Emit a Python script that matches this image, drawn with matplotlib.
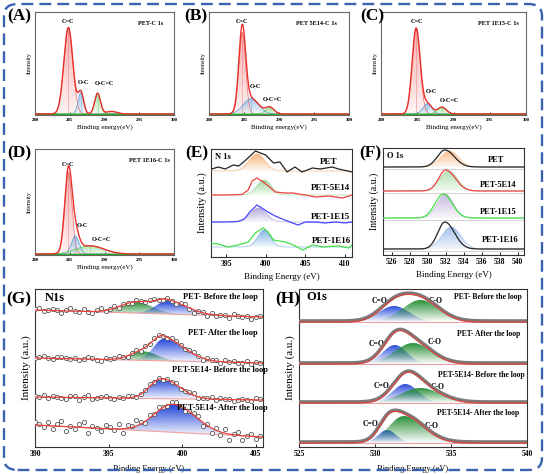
import numpy as np
import matplotlib.pyplot as plt
from matplotlib.colors import to_rgb
from matplotlib.patches import FancyBboxPatch, PathPatch
from matplotlib.path import Path

plt.rcParams['font.family'] = ['Liberation Serif', 'DejaVu Serif']
plt.rcParams['font.weight'] = 'bold'

W, H = 546, 474

# ---- C 1s fits (A-D): center, height, sigma per component ----
c1s_titles = ["PET-C 1s", "PET 5E14-C 1s", "PET 1E15-C 1s", "PET 1E16-C 1s"]
c1s_names = ["C=C", "O-C", "O-C=C"]
c1s_center = [[284.8, 286.6, 289.0], [284.75, 286.0, 288.7], [284.85, 286.4, 288.4], [284.8, 285.8, 287.9]]
c1s_height = [[1.0, 0.25, 0.24], [1.0, 0.19, 0.08], [1.0, 0.12, 0.08], [1.0, 0.22, 0.10]]
c1s_sigma = [[0.65, 0.4, 0.42], [0.48, 1.1, 0.6], [0.55, 0.6, 0.6], [0.52, 0.55, 2.0]]
c1s_ymax = [1.18, 1.25, 1.19, 1.28]
c1s_label_xy = [
    [(284.8, 1.04), (287.0, 0.34), (290.0, 0.32)],
    [(284.7, 1.10), (286.6, 0.31), (289.1, 0.15)],
    [(285.0, 1.05), (286.9, 0.23), (289.5, 0.13)],
    [(284.8, 1.06), (286.8, 0.32), (289.5, 0.15)],
]
c1s_title_x = [0.83, 0.77, 0.81, 0.82]
satellite_A = [291.0, 0.03, 0.8]

# ---- N 1s survey (E): raw traces and fitted peak ----
n1s_names = ["PET", "PET-5E14", "PET-1E15", "PET-1E16"]
n1s_base = [86, 62, 35, 10]
n1s_e = [
    [392.8, 394, 394.9, 395.9, 396.6, 397.5, 398.7, 400, 401, 401.8, 402.7, 403.7, 404.6, 405.9, 406.9, 408.4, 409.2, 410.9],
    [393, 395, 397, 397.8, 398.3, 398.9, 399.7, 400.5, 401.2, 402.5, 403.4, 405, 406.3, 408, 409.7, 410.9],
    [393, 395, 396.5, 397.3, 398, 398.9, 399.5, 400.3, 401.2, 402.1, 403.4, 404.1, 405, 406.3, 407.5, 408.8, 410, 410.9],
    [392.9, 394, 395.3, 396.5, 397.8, 398.7, 399.7, 400.3, 401, 402.5, 403.5, 404.7, 405.9, 407.2, 409.2, 410.5, 410.9],
]
n1s_y = [
    [1, 4, 2, 6, 5, 11, 20, 16, 8, 9, -1, 4, -1, 3, 2, 4, 2, -1],
    [0, 0, 0.5, 5, 14, 17, 13, 8, 3, 2, 2, 0, -2, -1, -3, 0],
    [0, 0, 0.5, 3, 10, 17, 14, 10, 6, 3, -1, -3, 0, 0, -1, 0, -1, 0],
    [4, 3, 0, 2, 5, 14, 19, 15, 7, 5, 2, -3, 2, 0, 1, -1, 2],
]
n1s_fit = [[398.9, 17, 1.0], [399.8, 15, 0.9], [399.1, 14, 1.0], [399.8, 17, 0.8]]
n1s_line_col = ["#222222", "#f04040", "#4444ff", "#44e044"]
n1s_fill_col = ["#f3a05a", "#7fcf7f", "#a08fcf", "#5f9fe0"]

# ---- O 1s survey (F): line peak (c, h, sl, sr) and fitted fill (c, h, s) ----
o1s_base = [88, 64, 37, 6]
o1s_line = [[531.9, 17, 0.85, 1.05], [532.0, 21, 0.8, 1.05], [531.7, 24, 0.9, 1.0], [531.9, 27, 0.8, 1.05]]
o1s_fill = [[532.4, 16, 1.0], [532.3, 20, 1.0], [531.95, 24, 0.9], [532.6, 22, 1.05]]
o1s_line_col = ["#222222", "#f04040", "#44e044", "#222222"]
o1s_fill_col = ["#f5a868", "#8fd48f", "#b0a0d4", "#7fa6e6"]

# ---- G: N1s before/after loop ----
loop_names = ["PET- Before the loop", "PET- After the loop", "PET-5E14- Before the loop", "PET-5E14- After the loop"]
g_base_left = [137, 89, 50, 22]
g_base_right = [130, 84, 47, 10]
g_green = [[396.9, 11, 1.1, 1.1], [397.4, 9, 0.9, 0.9], None, None]
g_blue = [[399.0, 13, 0.8, 1.3], [398.75, 22, 0.7, 1.4], [398.6, 20, 0.8, 1.2], [399.4, 28, 1.3, 1.5]]
g_resid = [
    [1, 2, -1, 0, 2, 1, -2, 1, 3, 0, -1, 2, 0, -2, 1, 3, -1, 0, 2, -1, 1, 0, -1, 2, 1, 0,
     1, 2, 0, -1, 1, 0, -2, 1, 2, -1, -3, 0, 1, -2, 2, -1, 0, 1, -2, 2, 0, -1, 1, -2, 0, 1],
    [0, 1, 2, 0, -1, 1, 2, 1, 0, 1, -1, 0, 2, 1, -1, -2, 1, 0, 1, 2, 0, -1, 1, 2, -1, 1,
     0, 2, 1, 0, -1, 2, 1, 0, -1, 1, 2, 0, -2, 1, 0, 1, -1, 2, 0, 1, -1, 0, 2, -1, 1, 0],
    [1, 0, 2, -1, 1, 0, -1, -2, 1, 2, -2, 1, 3, -1, 0, 1, 2, 0, -1, 1, 0, 2, 1, -1, 0, 1,
     2, 0, 1, -1, 1, 0, 2, -1, 0, 1, 2, -1, 0, 1, 2, -1, 1, 0, 1, -1, 0, 1, 0, -1, 2, 1],
    [3, 1, -2, 4, -3, 2, 5, -4, 1, -2, 3, 6, -5, 2, 0, -3, 4, 2, -1, 5, -4, 3, 1, 6, 2, -2,
     3, 0, 4, 1, -1, 2, 3, 0, -2, 1, 2, 3, -4, 1, -5, 2, -3, 4, -6, 1, 3, -4, 0, 2, -2, 1],
]
g_label_xy = [(402.6, 150), (402.8, 114), (402.6, 77), (402.7, 39)]

# ---- H: O1s before/after loop ----
h_base = [125, 83, 44, 4]
h_blue = [[531.25, 16, 1.0, 1.0], [531.3, 19, 0.8, 0.8], [532.0, 19, 0.85, 0.85], [530.8, 13, 0.6, 0.6]]
h_green = [[533.0, 22, 1.2, 1.2], [532.5, 21, 1.2, 1.2], [533.0, 15, 1.3, 1.3], [531.9, 27, 1.0, 1.3]]
h_co_xy = [(530.3, 146), (530.1, 103), (530.4, 61), (529.7, 23)]
h_c_o_xy = [(534.0, 146), (533.9, 105), (534.1, 60), (533.7, 21)]
h_label_xy = [(537.4, 150), (537.5, 113), (537.0, 72), (536.8, 34)]


def peak(x, c, h, sl, sr):
    s = np.where(x < c, sl, sr)
    return h * np.exp(-0.5 * ((x - c) / s) ** 2)


def rect(l, r, t, b):
    return [l / W, 1 - b / H, (r - l) / W, (b - t) / H]


def grad_fill(ax, x, base, top, color, a_top=0.85, a_bot=0.05, z=2):
    verts = np.column_stack([np.r_[x, x[::-1]], np.r_[top, base[::-1]]])
    patch = PathPatch(Path(verts), facecolor='none', edgecolor='none', transform=ax.transData)
    ax.add_patch(patch)
    rgba = np.ones((64, 1, 4))
    rgba[..., :3] = to_rgb(color)
    rgba[:, 0, 3] = np.linspace(a_bot, a_top, 64)
    im = ax.imshow(rgba, extent=[x[0], x[-1], base.min(), top.max()], origin='lower',
                   aspect='auto', zorder=z, interpolation='bilinear')
    im.set_clip_path(patch)


def style(ax, fs, spine='#444444'):
    ax.set_yticks([])
    for s in ax.spines.values():
        s.set_color(spine)
        s.set_linewidth(0.8)
    ax.tick_params(axis='x', direction='in', length=2, width=0.6, labelsize=fs, pad=2)


fig = plt.figure(figsize=(W / 100, H / 100), dpi=100)

# dashed border
fig.patches.append(FancyBboxPatch((4 / W, 4 / H), 1 - 8 / W, 1 - 8 / H,
                                  boxstyle="round,pad=0,rounding_size=0.025",
                                  transform=fig.transFigure, facecolor='none',
                                  edgecolor='#3a62b0', lw=1.7, linestyle=(0, (5, 2.6))))

# ---------------- A-D ----------------
c1s_rects = [rect(35, 174, 12, 115), rect(209, 349, 12, 115), rect(381, 526, 12, 115), rect(35, 174, 149, 255)]
comp_cols = ["#f06a6a", "#5a9ad6", "#5fc85f"]
x = np.linspace(280, 300, 800)
for i in range(4):
    ax = fig.add_axes(c1s_rects[i])
    comps = [peak(x, c, h, s, s) for c, h, s in zip(c1s_center[i], c1s_height[i], c1s_sigma[i])]
    env = sum(comps)
    if i == 0:
        sat = peak(x, satellite_A[0], satellite_A[1], satellite_A[2], satellite_A[2])
        grad_fill(ax, x, np.zeros_like(x), sat, "#999999", 0.5, 0.1)
        env = env + sat
    for comp, col, c, h in zip(comps, comp_cols, c1s_center[i], c1s_height[i]):
        grad_fill(ax, x, np.zeros_like(x), comp, col, 0.55, 0.08)
        ax.plot(x, comp, color=col, lw=0.5, zorder=3)
        ax.vlines(c, 0, h, color=col, lw=0.4, alpha=0.7, zorder=3)
    ax.plot(x, np.zeros_like(x), color='#22aa22', lw=1.0, zorder=4)
    ax.plot(x, env, color='#e8302a', lw=1.0, zorder=5)
    for name, (lx, ly) in zip(c1s_names, c1s_label_xy[i]):
        ax.text(lx, ly, name, fontsize=4.5, ha='center', va='bottom', zorder=6)
    ax.text(c1s_title_x[i], 0.89, c1s_titles[i], transform=ax.transAxes, fontsize=4.5,
            ha='center', va='center')
    ax.set_xlim(280, 300)
    ax.set_ylim(-0.012, c1s_ymax[i])
    ax.set_xticks([280, 285, 290, 295, 300])
    style(ax, 3.5, '#666666')
    ax.set_xlabel("Binding energy(eV)", fontsize=5, labelpad=2)
    ax.set_ylabel("Intensity", fontsize=4.5, labelpad=2)

# ---------------- E ----------------
ax = fig.add_axes(rect(211, 352, 149, 257))
xe = np.linspace(393.1, 410.9, 500)
for i in range(4):
    b = n1s_base[i]
    c, h, s = n1s_fit[i]
    pk = peak(xe, c, h, s, s)
    grad_fill(ax, xe, np.full_like(xe, b), b + pk, n1s_fill_col[i], 0.75, 0.08)
    ax.plot(xe, b + pk, color=n1s_fill_col[i], lw=0.5, alpha=0.7, zorder=3)
    ax.plot(n1s_e[i], np.array(n1s_y[i]) + b, color=n1s_line_col[i], lw=0.9, zorder=4)
e_lab = [(407.9, 95), (408.2, 69), (408.2, 40), (408.3, 16)]
for name, (lx, ly) in zip(n1s_names, e_lab):
    ax.text(lx, ly, name, fontsize=6.5, ha='center', va='center')
ax.text(0.03, 0.96, "N 1s", transform=ax.transAxes, fontsize=6, ha='left', va='top')
ax.set_xlim(393.1, 410.9)
ax.set_ylim(0, 108)
ax.set_xticks([395, 400, 405, 410])
style(ax, 5.5, '#333333')
ax.set_xlabel("Binding Energy (eV)", fontsize=6.5, labelpad=4)
ax.set_ylabel("Intensity (a.u.)", fontsize=7.5, labelpad=3)

# ---------------- F ----------------
ax = fig.add_axes(rect(383, 524, 148, 255))
xf = np.linspace(525, 540.7, 600)
for i in range(4):
    b = o1s_base[i]
    fc, fh, fs = o1s_fill[i]
    pk = peak(xf, fc, fh, fs, fs)
    grad_fill(ax, xf, np.full_like(xf, b), b + pk, o1s_fill_col[i], 0.7, 0.1)
    ax.plot(xf, b + pk, color=o1s_fill_col[i], lw=0.5, alpha=0.6, zorder=3)
    lc, lh, sl, sr = o1s_line[i]
    ax.plot(xf, b + peak(xf, lc, lh, sl, sr), color=o1s_line_col[i], lw=0.9, zorder=4)
    ax.axhline(b - 1.5, color='#cccccc', lw=0.6, zorder=1)
f_lab = [(537.6, 95), (537.8, 70), (537.8, 43), (538.0, 15)]
for name, (lx, ly) in zip(n1s_names, f_lab):
    ax.text(lx, ly, name, fontsize=6, ha='center', va='center')
ax.text(0.03, 0.96, "O 1s", transform=ax.transAxes, fontsize=6, ha='left', va='top')
ax.set_xlim(525, 540.7)
ax.set_ylim(0, 107)
ax.set_xticks(np.arange(526, 541, 2))
style(ax, 5.5, '#333333')
ax.set_xlabel("Binding Energy (eV)", fontsize=6.5, labelpad=4)
ax.set_ylabel("Intensity (a.u.)", fontsize=7, labelpad=3)

# ---------------- G ----------------
ax = fig.add_axes(rect(35, 263, 289, 447))
xg = np.linspace(390, 405.5, 600)
xp = np.linspace(390, 405.3, 52)
for i in range(4):
    bl, br = g_base_left[i], g_base_right[i]
    base = bl + (br - bl) * (xg - 390) / 15.5
    basep = bl + (br - bl) * (xp - 390) / 15.5
    env = np.zeros_like(xg)
    envp = np.zeros_like(xp)
    for comp, col in [(g_green[i], "#1f8a2e"), (g_blue[i], "#1238d8")]:
        if comp is None:
            continue
        pk = peak(xg, *comp)
        env += pk
        envp += peak(xp, *comp)
        grad_fill(ax, xg, base, base + pk, col, 0.95, 0.0)
    ax.plot(xg, base, color='#f0a0a0', lw=0.8, zorder=3)
    ax.plot(xp, basep + envp + np.array(g_resid[i]), 'o', ms=3, mfc='white', mec='#555555',
            mew=0.6, zorder=4)
    ax.plot(xg, base + env, color='#e8403a', lw=0.9, zorder=5)
    ax.text(*g_label_xy[i], loop_names[i], fontsize=6, ha='center', va='center', zorder=6)
ax.text(390.7, 149, "N1s", fontsize=9, ha='left', va='center')
ax.set_xlim(390, 405.5)
ax.set_ylim(0, 158)
ax.set_xticks([390, 395, 400, 405])
style(ax, 5.5, '#333333')
ax.set_xlabel("Binding Energy (eV)", fontsize=6, labelpad=5)
ax.set_ylabel("Intensity (a.u.)", fontsize=8, labelpad=3)

# ---------------- H ----------------
ax = fig.add_axes(rect(299, 527, 289, 447))
xh = np.linspace(525, 540, 700)
for i in range(4):
    b = h_base[i]
    base = np.full_like(xh, b)
    pb = peak(xh, *h_blue[i])
    pg = peak(xh, *h_green[i])
    grad_fill(ax, xh, base, base + pb, "#1f45d8", 0.95, 0.0)
    grad_fill(ax, xh, base, base + pg, "#1f8a2e", 0.95, 0.0, z=2.1)
    ax.plot(xh, base, color='#f0a0a0', lw=0.8, zorder=3)
    ax.plot(xh, base + pb + pg + 1, color='#7a7a7a', lw=2.6, zorder=4)
    ax.plot(xh, base + pb + pg, color='#e8403a', lw=0.8, zorder=5)
    ax.text(*h_co_xy[i], "C=O", fontsize=5.5, ha='center', va='center')
    ax.text(*h_c_o_xy[i], "C-O", fontsize=5.5, ha='center', va='center')
    ax.text(*h_label_xy[i], loop_names[i], fontsize=5.5, ha='center', va='center')
ax.text(525.5, 150, "O1s", fontsize=9, ha='left', va='center')
ax.set_xlim(525, 540)
ax.set_ylim(0, 158)
ax.set_xticks([525, 530, 535, 540])
style(ax, 5.5, '#333333')
ax.set_xlabel("Binding Energy (eV)", fontsize=6, labelpad=5)
ax.set_ylabel("Intensity (a.u.)", fontsize=8, labelpad=3)

# panel letters
for lab, (px, py) in zip("ABCDEFGH", [(19, 16), (196, 16), (372, 16), (19, 153),
                                      (197, 153), (370, 153), (19, 299), (288, 299)]):
    fig.text(px / W, 1 - py / H, f"({lab})", fontsize=12.5, ha='center', va='center')

fig.savefig("out.png", dpi=100)
